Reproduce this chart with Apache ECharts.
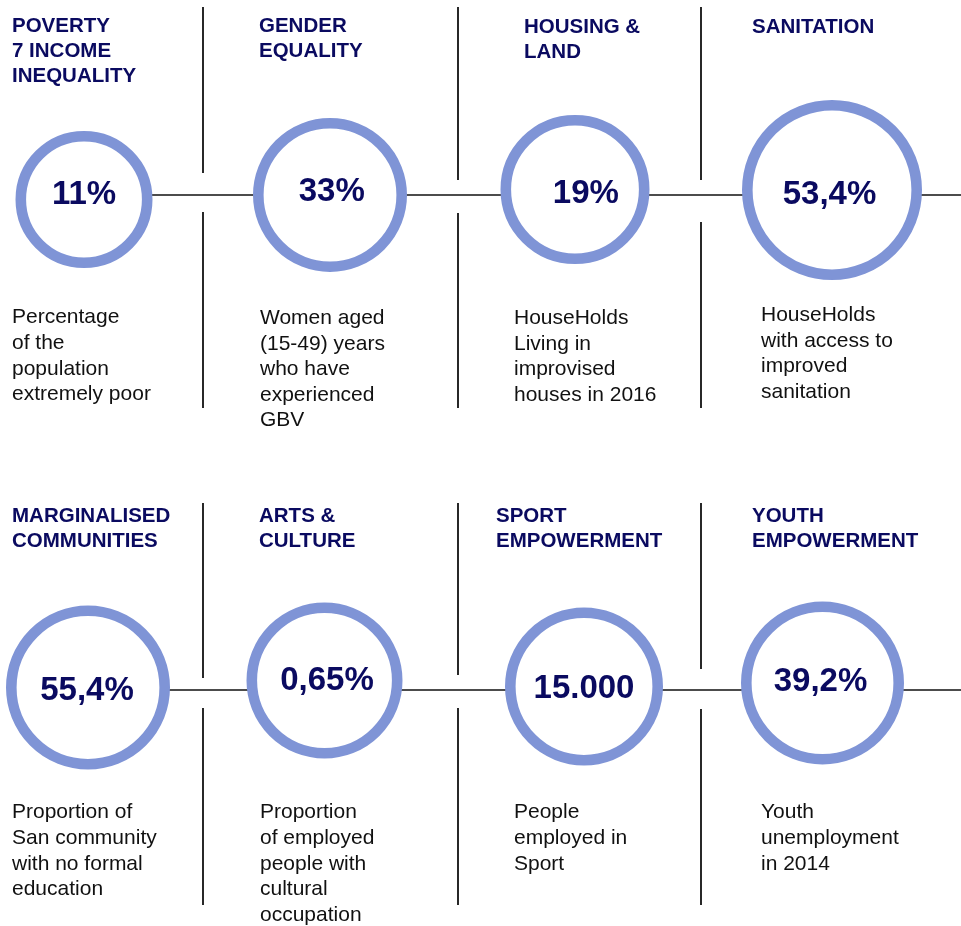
<!DOCTYPE html>
<html>
<head>
<meta charset="utf-8">
<script src="https://cdn.jsdelivr.net/npm/echarts@6/dist/echarts.min.js"></script>
<style>
html,body{margin:0;padding:0;background:#fff;}
#chart{width:961px;height:926px;}
</style>
</head>
<body>
<div id="chart"></div>
<script>
// ---- data ----
const titles = [
  'POVERTY\n7 INCOME\nINEQUALITY', 'GENDER\nEQUALITY', 'HOUSING &\nLAND', 'SANITATION',
  'MARGINALISED\nCOMMUNITIES', 'ARTS &\nCULTURE', 'SPORT\nEMPOWERMENT', 'YOUTH\nEMPOWERMENT'
];
const values = ['11%', '33%', '19%', '53,4%', '55,4%', '0,65%', '15.000', '39,2%'];
const descriptions = [
  'Percentage\nof the\npopulation\nextremely poor',
  'Women aged\n(15-49) years\nwho have\nexperienced\nGBV',
  'HouseHolds\nLiving in\nimprovised\nhouses in 2016',
  'HouseHolds\nwith access to\nimproved\nsanitation',
  'Proportion of\nSan community\nwith no formal\neducation',
  'Proportion\nof employed\npeople with\ncultural\noccupation',
  'People\nemployed in\nSport',
  'Youth\nunemployment\nin 2014'
];

// ---- layout (positions / sizes, kept apart from data) ----
// circle centre x, centre y, outer radius, value label offset
const circleLayout = [
  [84, 199.5, 68.5, 0, -4.5],
  [330, 195, 77, 1.7, -3],
  [575, 189.5, 74.5, 10.8, 4.2],
  [832, 190, 90, -2.5, 5],
  [88, 687.5, 82, -1, 3.5],
  [324.5, 680.5, 78, 2.5, 0],
  [584, 686.5, 79, 0, 2.5],
  [822.5, 683, 81.5, -2, -1]
];
const titleX = [12, 259, 524, 752, 12, 259, 496, 752];
const titleBaseline = [34, 34, 35, 35, 524, 524, 524, 524];
const descX = [12, 260, 514, 761, 12, 260, 514, 761];
const descBaseline = [325, 325.5, 325.5, 322.7, 820, 820, 820, 820];
const rowLineY = [194.5, 690];
const sepX = [203, 458, 701];
const sepSegments = [
  [[7, 173], [212, 408]], [[7, 180], [213, 408]], [[7, 180], [222, 408]],
  [[503, 678], [708, 905]], [[503, 675], [708, 905]], [[503, 669], [709, 905]]
];

const RING = '#7f94d6';
const NAVY = '#0a0a60';
const FONT = '"Liberation Sans", Arial, sans-serif';
const BW = 10.6;

const TITLE_FS = 20.5, TITLE_LH = 25;
const DESC_FS = 21, DESC_LH = 25.6;

const circleData = values.map((v, i) => {
  const L = circleLayout[i];
  return {
    value: [L[0], L[1]],
    symbolSize: 2 * L[2] - BW,
    label: { offset: [L[3], L[4]] },
    name: v
  };
});

const titleData = titles.map((t, i) => ({
  value: [titleX[i], titleBaseline[i] - (TITLE_LH / 2 + 0.35 * TITLE_FS)],
  name: t
}));
const descData = descriptions.map((t, i) => ({
  value: [descX[i], descBaseline[i] - (DESC_LH / 2 + 0.35 * DESC_FS)],
  name: t
}));

const lineData = [];
rowLineY.forEach((y, r) => {
  lineData.push({ coords: [[circleLayout[r * 4][0], y], [961, y]], lineStyle: { width: 1.6 } });
});
sepSegments.forEach((segs, k) => {
  const x = sepX[k % 3];
  segs.forEach(s => lineData.push({ coords: [[x, s[0]], [x, s[1]]], lineStyle: { width: 1.8 } }));
});

const chart = echarts.init(document.getElementById('chart'), null, { renderer: 'canvas' });
chart.setOption({
  animation: false,
  backgroundColor: '#fff',
  grid: { left: 0, right: 0, top: 0, bottom: 0 },
  xAxis: { type: 'value', min: 0, max: 961, show: false },
  yAxis: { type: 'value', min: 0, max: 926, inverse: true, show: false },
  series: [
    {
      type: 'lines',
      coordinateSystem: 'cartesian2d',
      z: 1,
      lineStyle: { color: '#111', width: 1.6, opacity: 1, curveness: 0 },
      data: lineData
    },
    {
      type: 'scatter',
      z: 5,
      symbol: 'circle',
      itemStyle: { color: '#fff', borderColor: RING, borderWidth: BW, opacity: 1 },
      label: {
        show: true, position: 'inside',
        formatter: p => p.name,
        color: NAVY, fontFamily: FONT, fontWeight: 'bold', fontSize: 33
      },
      emphasis: { disabled: true },
      data: circleData
    },
    {
      type: 'scatter',
      z: 6,
      symbolSize: 0,
      itemStyle: { opacity: 1 },
      label: {
        show: true, position: [0, 0], align: 'left', verticalAlign: 'top',
        formatter: p => p.name, opacity: 1,
        color: NAVY, fontFamily: FONT, fontWeight: 'bold', fontSize: TITLE_FS, lineHeight: TITLE_LH
      },
      emphasis: { disabled: true },
      data: titleData
    },
    {
      type: 'scatter',
      z: 6,
      symbolSize: 0,
      itemStyle: { opacity: 1 },
      label: {
        show: true, position: [0, 0], align: 'left', verticalAlign: 'top',
        formatter: p => p.name, opacity: 1,
        color: '#111', fontFamily: FONT, fontSize: DESC_FS, lineHeight: DESC_LH
      },
      emphasis: { disabled: true },
      data: descData
    }
  ]
});
</script>
</body>
</html>
